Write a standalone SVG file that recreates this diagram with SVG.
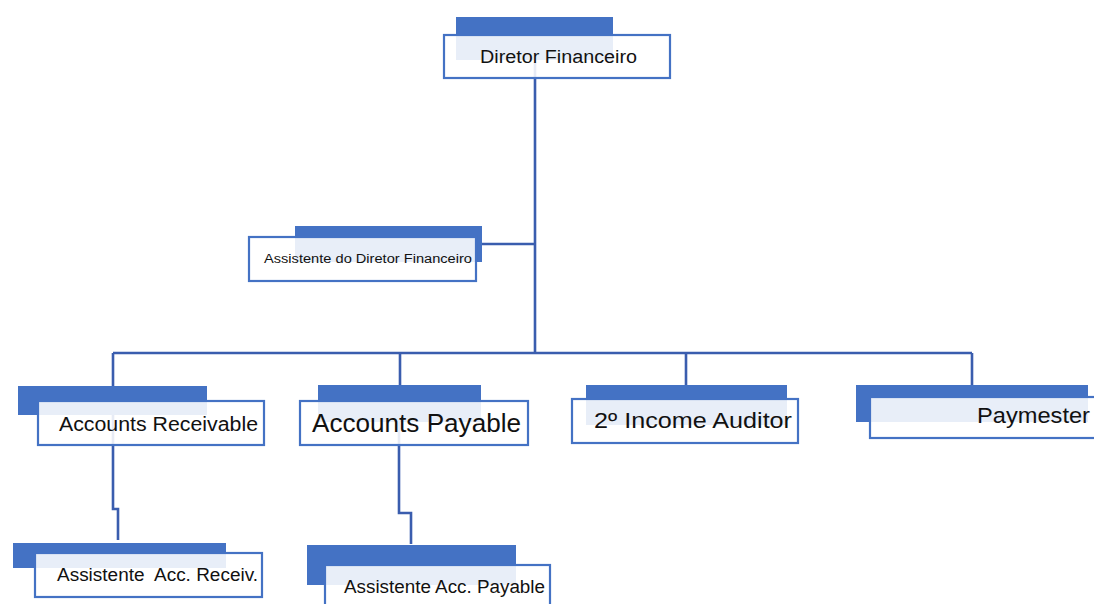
<svg xmlns="http://www.w3.org/2000/svg" width="1094" height="604" viewBox="0 0 1094 604">
  <style>
    .bar { fill: #4472C4; }
    .box { fill: #FFFFFF; fill-opacity: 0.88; stroke: #4472C4; stroke-width: 2.2; }
    .lbl { font-family: "Liberation Sans", Arial, sans-serif; fill: #111111; }
    .wire { fill: none; stroke: #3A5DAE; stroke-width: 2.6; }
  </style>
  <rect width="1094" height="604" fill="#FFFFFF"/>

  <!-- connectors, drawn under the nodes so they show faintly through the box fill -->
  <g id="connectors" class="wire">
    <path d="M535 62 V353"/>
    <path d="M482 244 H535"/>
    <path d="M113 353 H972"/>
    <path d="M113 353 V415"/>
    <path d="M400 353 V422"/>
    <path d="M686 353 V386"/>
    <path d="M972 353 V386"/>
    <path d="M113 415 V509 H118 V540"/>
    <path d="M399 422 V513 H411 V544"/>
  </g>

  <g id="diretor">
    <rect class="bar" x="456" y="17" width="157" height="43"/>
    <rect class="box" x="444" y="35" width="226" height="43"/>
    <text class="lbl" x="480" y="63" font-size="18" textLength="157" lengthAdjust="spacingAndGlyphs">Diretor Financeiro</text>
  </g>

  <g id="assistente-diretor">
    <rect class="bar" x="295" y="226" width="187" height="36"/>
    <rect class="box" x="249" y="237" width="227" height="44"/>
    <text class="lbl" x="264" y="263" font-size="12" textLength="208" lengthAdjust="spacingAndGlyphs">Assistente do Diretor Financeiro</text>
  </g>

  <g id="accounts-receivable">
    <rect class="bar" x="18" y="386" width="189" height="29"/>
    <rect class="box" x="38" y="401" width="226" height="44"/>
    <text class="lbl" x="59" y="431" font-size="20" textLength="199" lengthAdjust="spacingAndGlyphs">Accounts Receivable</text>
  </g>

  <g id="accounts-payable">
    <rect class="bar" x="318" y="385" width="163" height="37"/>
    <rect class="box" x="300" y="401" width="228" height="44"/>
    <text class="lbl" x="312" y="432" font-size="25" textLength="209" lengthAdjust="spacingAndGlyphs">Accounts Payable</text>
  </g>

  <g id="income-auditor">
    <rect class="bar" x="586" y="385" width="201" height="40"/>
    <rect class="box" x="572" y="399" width="226" height="44"/>
    <text class="lbl" x="594" y="428" font-size="22" textLength="198" lengthAdjust="spacingAndGlyphs">2º Income Auditor</text>
  </g>

  <g id="paymester">
    <rect class="bar" x="856" y="385" width="232" height="37"/>
    <rect class="box" x="870" y="397" width="240" height="41"/>
    <text class="lbl" x="977" y="423" font-size="22" textLength="113" lengthAdjust="spacingAndGlyphs">Paymester</text>
  </g>

  <g id="assistente-receiv">
    <rect class="bar" x="13" y="543" width="213" height="25"/>
    <rect class="box" x="35" y="553" width="227" height="44"/>
    <text class="lbl" x="57" y="581" font-size="18" textLength="201" lengthAdjust="spacingAndGlyphs" xml:space="preserve">Assistente  Acc. Receiv.</text>
  </g>

  <g id="assistente-payable">
    <rect class="bar" x="307" y="545" width="209" height="40"/>
    <rect class="box" x="325" y="565" width="225" height="50"/>
    <text class="lbl" x="344" y="593" font-size="18" textLength="201" lengthAdjust="spacingAndGlyphs">Assistente Acc. Payable</text>
  </g>
</svg>
